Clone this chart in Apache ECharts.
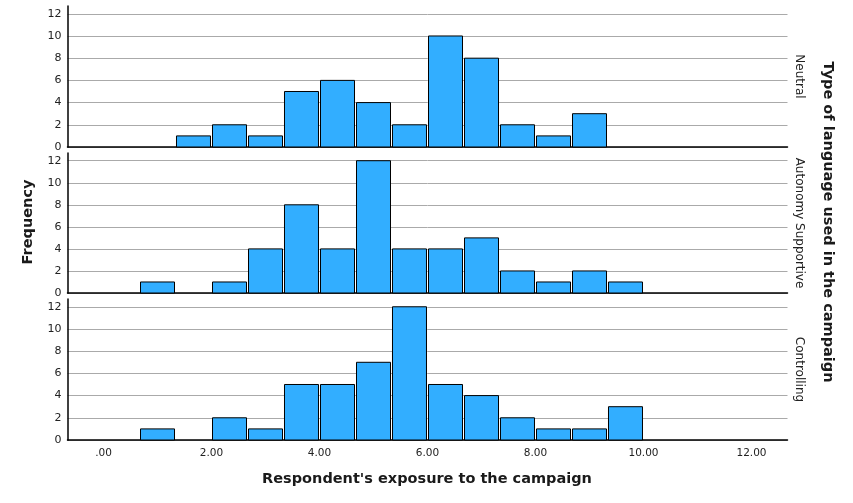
<!DOCTYPE html>
<html>
<head>
<meta charset="utf-8">
<script src="https://cdn.jsdelivr.net/npm/echarts@6/dist/echarts.min.js"></script>
<style>html,body{margin:0;padding:0;background:#fff}#c{width:853px;height:503px}</style>
</head>
<body>
<div id="c"></div>
<script>
// Histogram bins (left edges), width 2/3
const binLefts = [0.6667, 1.3333, 2.0, 2.6667, 3.3333, 4.0, 4.6667, 5.3333, 6.0, 6.6667, 7.3333, 8.0, 8.6667, 9.3333];
const binWidth = 2 / 3;
const panels = ['Neutral', 'Autonomy Supportive', 'Controlling'];
const neutral     = [0, 1, 2, 1, 5, 6, 4, 2, 10, 8, 2, 1, 3, 0];
const autonomy    = [1, 0, 1, 4, 8, 4, 12, 4, 4, 5, 2, 1, 2, 1];
const controlling = [1, 0, 2, 1, 5, 5, 7, 12, 5, 4, 2, 1, 1, 3];
const xTicks = [0, 2, 4, 6, 8, 10, 12];
const yTicks = [0, 2, 4, 6, 8, 10, 12];
const xTitle = "Respondent's exposure to the campaign";
const yTitle = 'Frequency';
const panelTitle = 'Type of language used in the campaign';

const seriesValues = [neutral, autonomy, controlling];
const FONT = 'DejaVu Sans';
const gridTops = [6, 153, 299];
const gridHeights = [141, 140, 141];

const grids = [], xAxes = [], yAxes = [], series = [];
seriesValues.forEach((vals, i) => {
  grids.push({ left: 67.5, right: 65.5, top: gridTops[i], height: gridHeights[i], containLabel: false });
  xAxes.push({
    type: 'value', gridIndex: i, min: -2 / 3, max: 38 / 3,
    axisLine: { show: true, onZero: false, lineStyle: { color: '#000', width: 1.5 } },
    axisTick: { show: false },
    splitLine: { show: false },
    axisLabel: {
      show: i === 2, customValues: xTicks, color: '#222', fontFamily: FONT, fontSize: 10.5, margin: 8,
      formatter: v => (v === 0 ? '.00' : v.toFixed(2))
    }
  });
  yAxes.push({
    type: 'value', gridIndex: i, min: 0, max: 12.7, interval: 2,
    axisLine: { show: true, onZero: false, lineStyle: { color: '#000', width: 1.5 } },
    axisTick: { show: false },
    splitLine: { show: true, showMaxLine: false, lineStyle: { color: '#aaaaaa', width: 1 } },
    axisLabel: {
      color: '#222', fontFamily: FONT, fontSize: 11, margin: 6, showMaxLabel: false,
      formatter: v => (yTicks.indexOf(v) >= 0 ? String(v) : '')
    }
  });
  series.push({
    type: 'custom', xAxisIndex: i, yAxisIndex: i,
    data: binLefts.map((b, k) => [b, b + binWidth, vals[k]]).filter(d => d[2] > 0),
    renderItem: (params, api) => {
      const p0 = api.coord([api.value(0), api.value(2)]);
      const p1 = api.coord([api.value(1), 0]);
      return {
        type: 'rect',
        shape: { x: p0[0] + 1, y: p0[1], width: p1[0] - p0[0] - 2, height: p1[1] - p0[1] },
        style: { fill: '#32aeff', stroke: '#000', lineWidth: 1 }
      };
    },
    encode: { x: [0, 1], y: 2 },
    silent: true
  });
});

const graphic = [
  { type: 'text', x: 28, y: 222, rotation: Math.PI / 2,
    style: { text: yTitle, font: 'bold 14.5px ' + FONT, fill: '#1a1a1a', textAlign: 'center', textVerticalAlign: 'middle' } },
  { type: 'text', x: 427, y: 479,
    style: { text: xTitle, font: 'bold 14.5px ' + FONT, fill: '#1a1a1a', textAlign: 'center', textVerticalAlign: 'middle' } },
  { type: 'text', x: 828, y: 222, rotation: -Math.PI / 2,
    style: { text: panelTitle, font: 'bold 14.5px ' + FONT, fill: '#1a1a1a', textAlign: 'center', textVerticalAlign: 'middle' } }
];
panels.forEach((p, i) => {
  graphic.push({ type: 'text', x: 799, y: gridTops[i] + gridHeights[i] / 2, rotation: -Math.PI / 2,
    style: { text: p, font: '12px ' + FONT, fill: '#222', textAlign: 'center', textVerticalAlign: 'middle' } });
});

const chart = echarts.init(document.getElementById('c'), null, { renderer: 'canvas' });
chart.setOption({
  animation: false,
  backgroundColor: '#fff',
  grid: grids, xAxis: xAxes, yAxis: yAxes, series: series, graphic: graphic
});
</script>
</body>
</html>
